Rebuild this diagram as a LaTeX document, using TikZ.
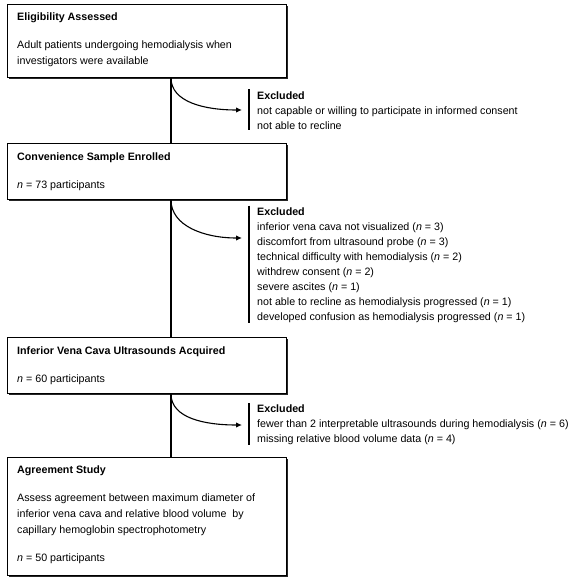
\documentclass[tikz,border=0pt]{standalone}
\usepackage{fontspec}
\setmainfont{Liberation Sans}
\usetikzlibrary{arrows.meta,shadows}
\begin{document}
\begin{tikzpicture}[x=1bp,y=-1bp,
  font=\fontsize{10.7bp}{15bp}\selectfont,
  box/.style={draw, line width=0.9bp, fill=white, anchor=north west, inner sep=0pt,
    drop shadow={shadow xshift=1.3bp, shadow yshift=-1.3bp, fill=black, opacity=0.85}},
  txt/.style={anchor=north west, inner sep=0pt, align=left},
  bodytxt/.style={txt, font=\fontsize{10.7bp}{16bp}\selectfont},
  ttl/.style={txt, font=\fontsize{10.7bp}{15bp}\selectfont\bfseries},
  conn/.style={line width=1.2bp},
  excl/.style={line width=1.1bp, -{Latex[length=6bp,width=5.5bp]}},
  bar/.style={line width=1.1bp}]
\useasboundingbox (0,0) rectangle (568,578);

% boxes
\node[box, minimum width=279bp, minimum height=73bp] (b1) at (7,4) {};
\node[box, minimum width=279bp, minimum height=56bp] (b2) at (7,143) {};
\node[box, minimum width=279bp, minimum height=56bp] (b3) at (7,337) {};
\node[box, minimum width=279bp, minimum height=118bp] (b4) at (7,457) {};

% box texts
\node[ttl] (t1) at (17,12.5) {Eligibility Assessed};
\node[bodytxt] (d1) at (17,40.5) {Adult patients undergoing hemodialysis when\\investigators were available};
\node[ttl] (t2) at (17,152.5) {Convenience Sample Enrolled};
\node[txt] (d2) at (17,180.5) {\textit{n} = 73 participants};
\node[ttl] (t3) at (17,346.5) {Inferior Vena Cava Ultrasounds Acquired};
\node[txt] (d3) at (17,374.5) {\textit{n} = 60 participants};
\node[ttl] (t4) at (17,465.5) {Agreement Study};
\node[bodytxt] (d4) at (17,493.5) {Assess agreement between maximum diameter of\\inferior vena cava and relative blood volume\ \ by\\capillary hemoglobin spectrophotometry};
\node[txt] (n4) at (17,553.5) {\textit{n} = 50 participants};

% exclusion texts
\node[txt] (e1) at (257,91.5) {\textbf{Excluded}\\not capable or willing to participate in informed consent\\not able to recline};
\node[txt] (e2) at (257,207.5) {\textbf{Excluded}\\inferior vena cava not visualized (\textit{n} = 3)\\discomfort from ultrasound probe (\textit{n} = 3)\\technical difficulty with hemodialysis (\textit{n} = 2)\\withdrew consent (\textit{n} = 2)\\severe ascites (\textit{n} = 1)\\not able to recline as hemodialysis progressed (\textit{n} = 1)\\developed confusion as hemodialysis progressed (\textit{n} = 1)};
\node[txt] (e3) at (257,405) {\textbf{Excluded}\\fewer than 2 interpretable ultrasounds during hemodialysis (\textit{n} = 6)\\missing relative blood volume data (\textit{n} = 4)};

% bars
\draw[bar] ([xshift=-8bp,yshift=2bp]e1.north west) -- ([xshift=-8bp]e1.south west);
\draw[bar] ([xshift=-8bp,yshift=2bp]e2.north west) -- ([xshift=-8bp]e2.south west);
\draw[bar] ([xshift=-8bp,yshift=2bp]e3.north west) -- ([xshift=-8bp]e3.south west);

% connector coordinates
\coordinate (c1) at (171,0 |- b1.south);
\coordinate (c2) at (171,0 |- b2.south);
\coordinate (c3) at (171,0 |- b3.south);
\coordinate (a1) at (242,110);
\coordinate (a2) at (242,238);
\coordinate (a3) at (242,425);

% vertical connectors
\draw[conn] (c1) -- (b2.north -| c1);
\draw[conn] (c2) -- (b3.north -| c2);
\draw[conn] (c3) -- (b4.north -| c3);

% exclusion arrows
\draw[excl] (c1) .. controls +(0,24) and +(-38,0) .. (a1);
\draw[excl] (c2) .. controls +(0,26) and +(-38,0) .. (a2);
\draw[excl] (c3) .. controls +(0,24) and +(-38,0) .. (a3);
\end{tikzpicture}
\end{document}
